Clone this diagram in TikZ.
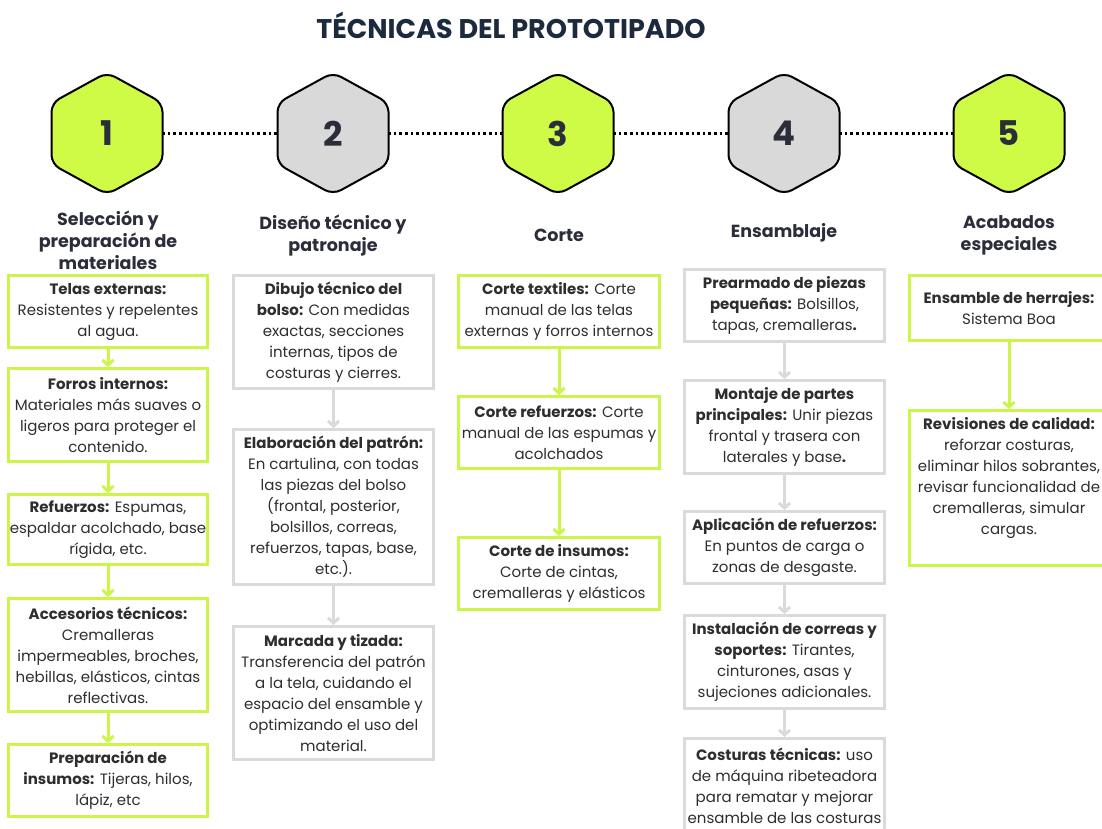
\documentclass[tikz,border=0pt]{standalone}
\usepackage{fontspec}
\setmainfont{Poppins}
\usetikzlibrary{arrows.meta}
\definecolor{limefill}{HTML}{CFFA46}
\definecolor{limeline}{HTML}{CCF549}
\definecolor{grayfill}{HTML}{D9D9D9}
\definecolor{grayline}{HTML}{DADADA}
\definecolor{titlec}{HTML}{1C2A3D}
\definecolor{headc}{HTML}{2B2D3B}
\definecolor{bodyc}{HTML}{2E2E2E}
\tikzset{
  hexbase/.style={draw=black, line width=2pt, rounded corners=9pt},
  numtxt/.style={font=\bfseries\fontsize{34}{36}\selectfont, text=headc, minimum width=110pt, minimum height=10pt, inner sep=0pt},
  headtxt/.style={font=\bfseries\fontsize{17.5}{22}\selectfont, text=headc, align=center},
  boxL/.style={draw=limeline, line width=3pt, inner sep=0pt},
  boxG/.style={draw=grayline, line width=3pt, inner sep=0pt},
  txt/.style={align=center, font=\fontsize{15}{21}\selectfont, text=bodyc},
  arrL/.style={draw=limeline, line width=3pt, -{Straight Barb[length=5pt,width=11pt,line width=3pt]}},
  arrG/.style={draw=grayline, line width=3pt, -{Straight Barb[length=5pt,width=11pt,line width=3pt]}},
  dotline/.style={draw=black, line width=2.6pt, dash pattern=on 2.6pt off 3pt}
}
\begin{document}
\begin{tikzpicture}[x=1pt,y=-1pt]
\useasboundingbox (0,0) rectangle (1102,829);
\fill[white] (0,0) rectangle (1102,829);

% title
\node[font=\bfseries\fontsize{27}{30}\selectfont, text=titlec] (title) at (511,25) {TÉCNICAS DEL PROTOTIPADO};

% hexagons
\foreach \cx/\col [count=\i] in {107/limefill,333/grayfill,558/limefill,784/grayfill,1009/limefill}{
  \draw[hexbase, fill=\col] (\cx,72.5) -- ++(55.5,30.5) -- ++(0,61) -- ++(-55.5,30.5) -- ++(-55.5,-30.5) -- ++(0,-61) -- cycle;
  \node[numtxt] (h\i) at (\cx,133.5) {\i};
}
\draw[dotline] (h1.east) -- (h2.west);
\draw[dotline] (h2.east) -- (h3.west);
\draw[dotline] (h3.east) -- (h4.west);
\draw[dotline] (h4.east) -- (h5.west);

% headers
\node[headtxt] (k1) at (108,240) {Selección y\\preparación de\\materiales};
\node[headtxt] (k2) at (333,235.5) {Diseño técnico y\\patronaje};
\node[headtxt] (k3) at (559,235) {Corte};
\node[headtxt] (k4) at (784,233) {Ensamblaje};
\node[headtxt] (k5) at (1009,235.5) {Acabados\\especiales};

% column 1
\node[boxL, minimum width=199pt, minimum height=72pt] (a1) at (108,311.5) {};
\node[boxL, minimum width=199pt, minimum height=93pt] (a2) at (108,415) {};
\node[boxL, minimum width=199pt, minimum height=70pt] (a3) at (108,529.5) {};
\node[boxL, minimum width=199pt, minimum height=113pt] (a4) at (108,655) {};
\node[boxL, minimum width=199pt, minimum height=72pt] (a5) at (108,780.5) {};
\node[txt] (ta1) at (a1) {\textbf{Telas externas:}\\Resistentes y repelentes\\al agua.};
\node[txt] (ta2) at (a2) {\textbf{Forros internos:}\\Materiales más suaves o\\ligeros para proteger el\\contenido.};
\node[txt] (ta3) at (a3) {\textbf{Refuerzos:} Espumas,\\espaldar acolchado, base\\rígida, etc.};
\node[txt] (ta4) at (a4) {\textbf{Accesorios técnicos:}\\Cremalleras\\impermeables, broches,\\hebillas, elásticos, cintas\\reflectivas.};
\node[txt] (ta5) at (a5) {\textbf{Preparación de}\\\textbf{insumos:} Tijeras, hilos,\\lápiz, etc};
\draw[arrL] (a1.south) -- (a2.north);
\draw[arrL] (a2.south) -- (a3.north);
\draw[arrL] (a3.south) -- (a4.north);
\draw[arrL] (a4.south) -- (a5.north);

% column 2
\node[boxG, minimum width=200pt, minimum height=113pt] (b1) at (333.5,332) {};
\node[boxG, minimum width=200pt, minimum height=155pt] (b2) at (333.5,507) {};
\node[boxG, minimum width=200pt, minimum height=133pt] (b3) at (333.5,693) {};
\node[txt] (tb1) at (b1) {\textbf{Dibujo técnico del}\\\textbf{bolso:} Con medidas\\exactas, secciones\\internas, tipos de\\costuras y cierres.};
\node[txt] (tb2) at (b2) {\textbf{Elaboración del patrón:}\\En cartulina, con todas\\las piezas del bolso\\(frontal, posterior,\\bolsillos, correas,\\refuerzos, tapas, base,\\etc.).};
\node[txt] (tb3) at (b3) {\textbf{Marcada y tizada:}\\Transferencia del patrón\\a la tela, cuidando el\\espacio del ensamble y\\optimizando el uso del\\material.};
\draw[arrG] (b1.south) -- (b2.north);
\draw[arrG] (b2.south) -- (b3.north);

% column 3
\node[boxL, minimum width=201pt, minimum height=72pt] (c1) at (559,311.5) {};
\node[boxL, minimum width=201pt, minimum height=72pt] (c2) at (559,432.5) {};
\node[boxL, minimum width=201pt, minimum height=72pt] (c3) at (559,573.5) {};
\node[txt] (tc1) at (c1) {\textbf{Corte textiles:} Corte\\manual de las telas\\externas y forros internos};
\node[txt] (tc2) at (c2) {\textbf{Corte refuerzos:} Corte\\manual de las espumas y\\acolchados};
\node[txt] (tc3) at (c3) {\textbf{Corte de insumos:}\\Corte de cintas,\\cremalleras y elásticos};
\draw[arrL] (c1.south) -- (c2.north);
\draw[arrL] (c2.south) -- (c3.north);

% column 4
\node[boxG, minimum width=200pt, minimum height=72pt] (d1) at (784.5,305.5) {};
\node[boxG, minimum width=200pt, minimum height=93pt] (d2) at (784.5,427) {};
\node[boxG, minimum width=200pt, minimum height=72pt] (d3) at (784.5,547.5) {};
\node[boxG, minimum width=200pt, minimum height=93pt] (d4) at (784.5,662) {};
\node[boxG, minimum width=200pt, minimum height=130pt] (d5) at (784.5,803.5) {};
\node[txt] (td1) at (d1) {\textbf{Prearmado de piezas}\\\textbf{pequeñas:} Bolsillos,\\tapas, cremalleras\textbf{.}};
\node[txt] (td2) at (d2) {\textbf{Montaje de partes}\\\textbf{principales:} Unir piezas\\frontal y trasera con\\laterales y base\textbf{.}};
\node[txt] (td3) at (d3) {\textbf{Aplicación de refuerzos:}\\En puntos de carga o\\zonas de desgaste.};
\node[txt] (td4) at (d4) {\textbf{Instalación de correas y}\\\textbf{soportes:} Tirantes,\\cinturones, asas y\\sujeciones adicionales.};
\node[txt] (td5) at (784.5,786) {\textbf{Costuras técnicas:} uso\\de máquina ribeteadora\\para rematar y mejorar\\ensamble de las costuras};
\draw[arrG] (d1.south) -- (d2.north);
\draw[arrG] (d2.south) -- (d3.north);
\draw[arrG] (d3.south) -- (d4.north);
\draw[arrG] (d4.south) -- (d5.north);

% column 5
\node[boxL, minimum width=199pt, minimum height=65pt] (e1) at (1009,308) {};
\node[boxL, minimum width=199pt, minimum height=155pt] (e2) at (1009,488) {};
\node[txt] (te1) at (e1) {\textbf{Ensamble de herrajes:}\\Sistema Boa};
\node[txt] (te2) at (1009,478) {\textbf{Revisiones de calidad:}\\reforzar costuras,\\eliminar hilos sobrantes,\\revisar funcionalidad de\\cremalleras, simular\\cargas.};
\draw[arrL] (e1.south) -- (e2.north);
\end{tikzpicture}
\end{document}
